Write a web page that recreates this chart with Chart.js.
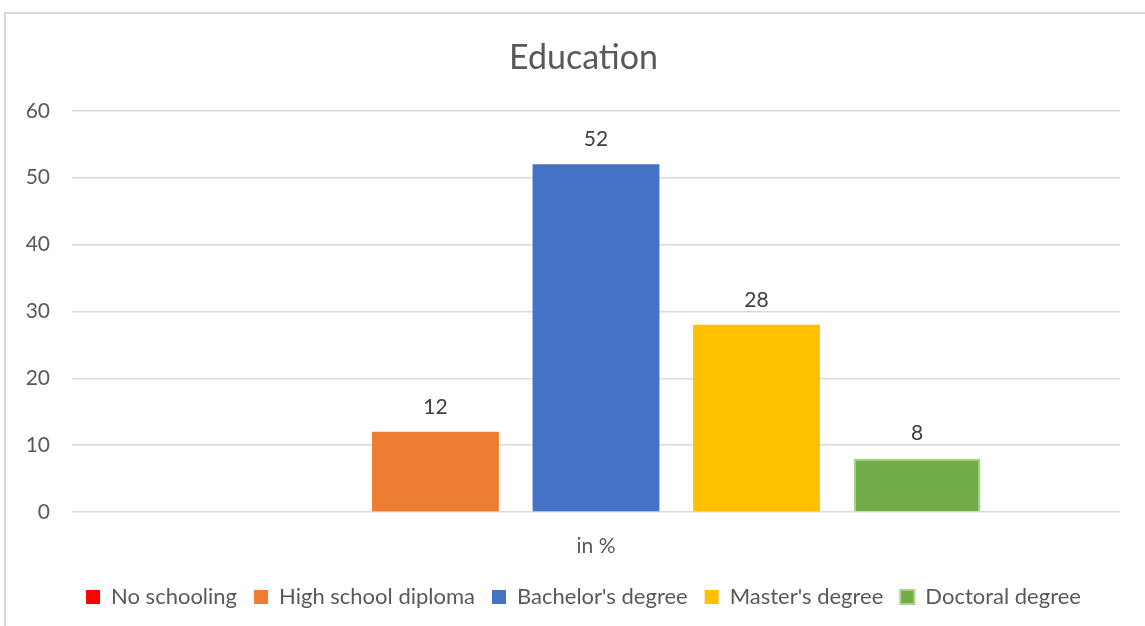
<!DOCTYPE html>
<html>
<head>
<meta charset="utf-8">
<script src="https://cdn.jsdelivr.net/npm/chart.js@4/dist/chart.umd.min.js"></script>
<style>
  html, body { margin: 0; padding: 0; background: #fff; overflow: hidden; }
  #frame { position: absolute; left: 4px; top: 12px; width: 1200px; height: 700px;
           border-left: 2px solid #d9d9d9; border-top: 2px solid #d9d9d9; }
  #wrap { position: absolute; left: 0; top: 0; width: 1145px; height: 626px; }
</style>
</head>
<body>
<div id="frame"></div>
<div id="wrap"><canvas id="chart"></canvas></div>
<script>
const categories = ['in %'];
const seriesNames = ['No schooling', 'High school diploma', "Bachelor's degree", "Master's degree", 'Doctoral degree'];
const seriesValues = [0, 12, 52, 28, 8];
const seriesColors = ['#ff0000', '#ed7d31', '#4472c4', '#ffc000', '#70ad47'];
const seriesBorders = ['#ff0000', '#ed7d31', '#4472c4', '#ffc000', '#a9d18e'];
const yTicks = [0, 10, 20, 30, 40, 50, 60];

const FONT = 'Lato, "Liberation Sans", sans-serif';

// value labels above each bar (zero values are left blank)
const barLabels = {
    id: 'barLabels',
    afterDatasetsDraw(chart) {
        const ctx = chart.ctx;
        ctx.save();
        ctx.font = '21px ' + FONT;
        ctx.fillStyle = '#404040';
        ctx.textAlign = 'center';
        ctx.textBaseline = 'middle';
        chart.data.datasets.forEach((ds, i) => {
            chart.getDatasetMeta(i).data.forEach((bar, j) => {
                const v = ds.data[j];
                if (!v) return;
                ctx.fillText(String(v), bar.x, bar.y - 25);
            });
        });
        ctx.restore();
    }
};

const datasets = seriesNames.map((name, i) => ({
    label: name,
    data: [seriesValues[i]],
    backgroundColor: seriesColors[i],
    borderColor: seriesBorders[i],
    borderWidth: i === 4 ? 2 : 0,
    categoryPercentage: 0.766,
    barPercentage: 0.79
}));

new Chart(document.getElementById('chart'), {
    type: 'bar',
    data: { labels: categories, datasets: datasets },
    plugins: [barLabels],
    options: {
        responsive: true,
        maintainAspectRatio: false,
        animation: false,
        layout: { padding: { top: 12, right: 0, left: 22, bottom: 8 } },
        plugins: {
            title: {
                display: true,
                text: 'Education',
                color: '#595959',
                font: { family: FONT, size: 34, weight: 'normal' },
                padding: { top: 26, bottom: 32 }
            },
            legend: {
                position: 'bottom',
                labels: {
                    color: '#595959',
                    font: { family: FONT, size: 22 },
                    boxWidth: 14,
                    boxHeight: 14,
                    padding: 17,
                    generateLabels(chart) {
                        return chart.data.datasets.map((ds, i) => ({
                            text: ds.label,
                            fillStyle: ds.backgroundColor,
                            strokeStyle: ds.borderColor,
                            lineWidth: i === 4 ? 2 : 0,
                            datasetIndex: i,
                            hidden: false,
                            fontColor: '#595959'
                        }));
                    }
                }
            },
            tooltip: { enabled: false }
        },
        scales: {
            x: {
                grid: { display: false },
                border: { display: false },
                afterFit(scale) { scale.height = 57; },
                ticks: { color: '#595959', font: { family: FONT, size: 21 }, padding: 14 }
            },
            y: {
                min: 0,
                max: 60,
                afterBuildTicks(scale) { scale.ticks = yTicks.map(v => ({ value: v })); },
                afterFit(scale) { scale.width = 50; },
                grid: { color: '#d9d9d9', lineWidth: 1.5, drawTicks: false },
                border: { display: false },
                ticks: { color: '#595959', font: { family: FONT, size: 21 }, padding: 22 }
            },
            // empty strip on the right of the plot
            gutter: {
                type: 'linear',
                position: 'right',
                grid: { display: false },
                border: { display: false },
                ticks: { display: false },
                afterFit(scale) { scale.width = 25; }
            }
        }
    }
});
</script>
</body>
</html>
